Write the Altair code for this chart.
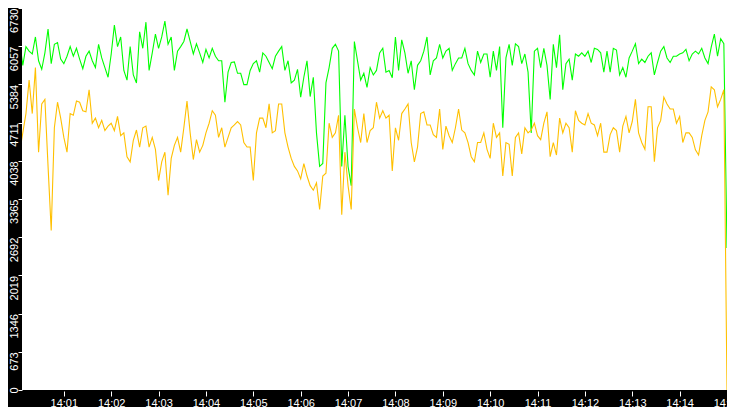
import altair as alt
import pandas as pd

# sample times: seconds after 14:00, one sample every 4 s
seconds = list(range(0, 901, 4))

green = [6090,6140,5720,6050,5970,5920,6220,5800,5650,5940,
         6360,5750,6090,6120,5830,5750,5880,6050,5880,6020,
         5830,5660,5880,5970,5800,5680,6090,5850,5680,5510,
         5920,6430,6050,6220,5630,5460,6050,5550,5410,6310,
         6020,6480,5630,5940,6270,6020,6220,6500,6090,6220,
         5630,5970,6050,6140,6360,6140,5920,6100,5940,5770,
         6000,5850,6020,5880,5800,5800,5070,5600,5770,5780,
         5580,5580,5380,5380,5630,5750,5800,5600,5940,5880,
         5770,5660,5880,5970,6050,5630,5800,5410,5460,5650,
         5160,5510,5800,5170,5510,4530,3940,3990,5410,5680,
         6020,6090,5970,3940,4840,3940,3600,6140,5800,5460,
         5580,5330,5680,5550,5630,5940,6020,5600,5630,5500,
         6220,5630,6170,5940,5580,5800,5290,5720,5800,5970,
         6220,5550,5800,5850,6090,5850,5970,6020,5630,5750,
         5850,5850,6020,5750,5630,5550,5970,5770,5920,5920,
         5510,5970,5630,6050,4620,5850,6090,5720,6100,6050,
         5750,5920,5600,4530,5970,6020,5680,6020,5720,5120,
         6090,5680,6260,5290,5750,5830,5460,5920,5880,5940,
         5880,5970,5770,6020,6000,5940,5600,5970,5600,6020,
         5990,5550,5680,5510,5850,5970,6100,5750,5830,5770,
         5880,5940,5550,5770,5970,6050,5850,5770,5880,5880,
         5920,5940,6000,5800,5920,5970,5920,6020,5850,5750,
         6040,6270,5880,6190,6100,2500]

orange = [4570,4190,4530,4870,5460,4870,5680,4190,5040,5120,
          3940,2810,4620,5070,4790,4450,4190,4870,4840,5090,
          5070,4920,4900,5290,4700,4790,4620,4750,4570,4650,
          4700,4570,4820,4480,4530,4110,4020,4400,4580,4280,
          4620,4650,4280,4450,4240,3690,4020,4190,3430,4080,
          4310,4450,4190,4620,5090,4530,4060,4410,4190,4310,
          4530,4700,4920,4840,4450,4620,4280,4450,4620,4670,
          4730,4670,4360,4280,4280,3690,4530,4790,4790,4620,
          5040,4530,4570,5040,5040,4530,4280,4080,3940,3860,
          3720,3990,3770,3600,3520,3650,3180,3770,3820,4700,
          4450,4530,4840,3090,4190,3600,3180,4950,4620,4360,
          4870,4360,4570,4620,5070,4790,4920,4790,4840,3860,
          4620,4400,4870,4950,5040,4360,4020,4280,4870,4900,
          4670,4670,4500,4450,4950,4240,4650,4480,4360,4620,
          4950,4580,4530,4360,4110,4020,4360,4360,4530,4240,
          4080,4700,4450,4530,3770,4360,4330,3770,4450,4530,
          4160,4620,4530,4580,4700,4480,4410,4700,4900,4110,
          4360,4140,4790,4530,4700,4620,4190,4920,4750,4700,
          4670,4870,4700,4670,4480,4700,4190,4190,4500,4620,
          4570,4190,4650,4820,4530,4730,5120,4530,4360,4240,
          4990,4990,4020,4620,4750,5160,5040,4950,4950,4700,
          4820,4360,4530,4530,4450,4230,4140,4480,4750,4900,
          5340,5290,4990,5120,5290,0]

y_ticks = [0, 673, 1346, 2019, 2692, 3365, 4038, 4711, 5384, 6057, 6730]
x_ticks = list(range(60, 901, 60))

df = pd.DataFrame({"t": seconds, "green": green, "orange": orange})

FONT = "Liberation Sans"

x_axis = alt.Axis(
    values=x_ticks,
    labelExpr="'14:' + (datum.value < 600 ? '0' : '') + (datum.value / 60)",
    title=None, domain=False, grid=False,
    tickColor="white", tickSize=5, tickWidth=1, offset=1,
    labelColor="white", labelFont=FONT, labelFontSize=11, labelPadding=1,
    labelFlush=False, labelOverlap=False, labelAngle=0,
)

y_axis = alt.Axis(
    values=y_ticks, format="d",
    title=None, domain=False, grid=False,
    tickColor="white", tickSize=4, tickWidth=1,
    labelColor="white", labelFont=FONT, labelFontSize=11,
    labelAngle=270,
    labelAlign={"condition": {"test": "datum.value == 0", "value": "center"}, "value": "right"},
    labelBaseline="alphabetic", labelPadding=1,
    labelFlush=False, labelOverlap=False,
)

x_enc = alt.X("t:Q", scale=alt.Scale(domain=[7, 900], nice=False, zero=False), axis=x_axis)
y_scale = alt.Scale(domain=[0, 6730], nice=False)

base = alt.Chart(df)
g_line = base.mark_line(color="#00ff00", strokeWidth=1.1, clip=True).encode(
    x=x_enc, y=alt.Y("green:Q", scale=y_scale, axis=y_axis)
)
o_line = base.mark_line(color="#ffc000", strokeWidth=1.1, clip=True).encode(
    x=x_enc, y=alt.Y("orange:Q", scale=y_scale, axis=y_axis)
)

chart = alt.layer(g_line, o_line).properties(
    width=705, height=382,
    padding={"left": 14, "top": 0, "right": 0, "bottom": 17},
    autosize=alt.AutoSizeParams(type="none"),
    background="black",
).configure_view(fill="white", strokeWidth=0)

chart.save("out.html", embed_options={"renderer": "svg", "actions": False})
